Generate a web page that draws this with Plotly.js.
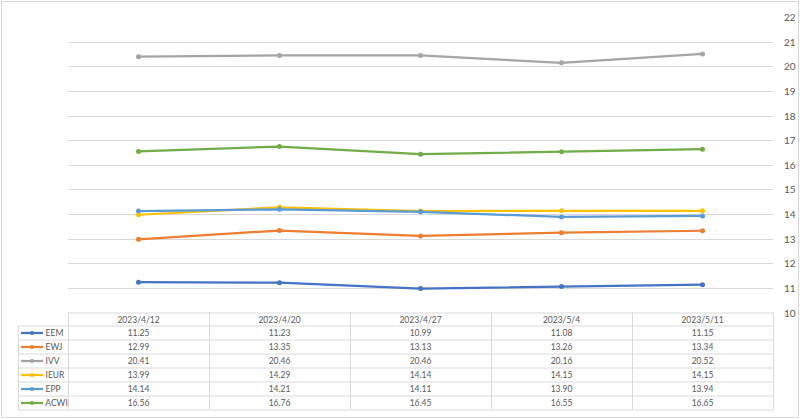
<!DOCTYPE html>
<html><head><meta charset="utf-8">
<script src="https://cdn.plot.ly/plotly-3.0.1.min.js"></script>
<style>html,body{margin:0;padding:0;background:#fff}</style>
</head><body>
<div id="chart" style="width:800px;height:419px"></div>
<script>
const dates = ['2023/4/12','2023/4/20','2023/4/27','2023/5/4','2023/5/11'];
const EEM  = [11.25, 11.23, 10.99, 11.08, 11.15];
const EWJ  = [12.99, 13.35, 13.13, 13.26, 13.34];
const IVV  = [20.41, 20.46, 20.46, 20.16, 20.52];
const IEUR = [13.99, 14.29, 14.14, 14.15, 14.15];
const EPP  = [14.14, 14.21, 14.11, 13.90, 13.94];
const ACWI = [16.56, 16.76, 16.45, 16.55, 16.65];
const seriesNames = ['EEM','EWJ','IVV','IEUR','EPP','ACWI'];
const seriesValues = [EEM, EWJ, IVV, IEUR, EPP, ACWI];
const colors = ['#4472C4','#ED7D31','#A5A5A5','#FFC000','#5B9BD5','#70AD47'];
const yTickVals = [10,11,12,13,14,15,16,17,18,19,20,21,22];

const W = 800, H = 419;
const px = x => x / W;
const py = y => 1 - y / H;
const FONT = 'Lato, "Liberation Sans", sans-serif';
const TXT = '#595959';
const GRID = '#d9d9d9';

const traces = seriesNames.map((n, i) => ({
  type: 'scatter', mode: 'lines+markers', name: n,
  x: dates, y: seriesValues[i],
  line: {color: colors[i], width: 2.25},
  marker: {color: colors[i], size: 5},
  xaxis: 'x', yaxis: 'y', showlegend: false, hoverinfo: 'skip'
}));

// data table geometry
const tableTop = 312.5, headH = 13, rowH = 14, tableLeft = 18, legendW = 50, colW = 141;
const textShift = 3.5;   // table text sits low in its cells; lift the text block
const nRows = seriesNames.length;
const tableBottom = tableTop + headH + rowH * nRows;
const tableRight = tableLeft + legendW + colW * dates.length;

const pad = '\u00a0'.repeat(9);
const colVals = [seriesNames.map(n => pad + n)];
dates.forEach((d, j) => colVals.push(seriesValues.map(s => s[j].toFixed(2))));

traces.push({
  type: 'table',
  domain: {x: [px(tableLeft), px(tableRight)], y: [py(tableBottom - textShift), py(tableTop - textShift)]},
  columnwidth: [legendW].concat(dates.map(() => colW)),
  header: {
    values: [''].concat(dates),
    height: headH, align: 'center',
    line: {color: 'rgba(0,0,0,0)', width: 0},
    fill: {color: 'rgba(0,0,0,0)'},
    font: {family: FONT, size: 8.5, color: TXT}
  },
  cells: {
    values: colVals,
    height: rowH,
    align: ['left'].concat(dates.map(() => 'center')),
    line: {color: 'rgba(0,0,0,0)', width: 0},
    fill: {color: 'rgba(0,0,0,0)'},
    font: {family: FONT, size: 8.5, color: TXT}
  }
});

const shapes = [];
const hline = (y, x0, x1) => shapes.push({type: 'line', xref: 'paper', yref: 'paper', layer: 'above',
  x0: px(x0), x1: px(x1), y0: py(y), y1: py(y), line: {color: GRID, width: 1}});
const vline = (x, y0, y1) => shapes.push({type: 'line', xref: 'paper', yref: 'paper', layer: 'above',
  x0: px(x), x1: px(x), y0: py(y0), y1: py(y1), line: {color: GRID, width: 1}});
const dataLeft = tableLeft + legendW;
hline(tableTop + 0.5, dataLeft, tableRight);
for (let r = 0; r <= nRows; r++) hline(tableTop + headH + rowH * r + 0.5, tableLeft, tableRight);
vline(tableLeft + 0.5, tableTop + headH, tableBottom);
for (let c = 0; c <= dates.length; c++) vline(dataLeft + colW * c + 0.5, tableTop, tableBottom);

// legend keys in the table's first column
seriesNames.forEach((n, i) => {
  const yc = tableTop + headH + rowH * i + rowH / 2 + 0.5;
  shapes.push({type: 'line', xref: 'paper', yref: 'paper', layer: 'above',
    x0: px(21), x1: px(43), y0: py(yc), y1: py(yc),
    line: {color: colors[i], width: 2.25}});
  shapes.push({type: 'circle', xref: 'paper', yref: 'paper', layer: 'above',
    x0: px(30), x1: px(34), y0: py(yc - 2), y1: py(yc + 2),
    fillcolor: colors[i], line: {color: colors[i], width: 0}});
});
// chart border
shapes.push({type: 'rect', xref: 'paper', yref: 'paper', layer: 'below',
  x0: px(1.5), x1: px(798.5), y0: py(417.5), y1: py(1.5),
  line: {color: GRID, width: 1}});

const layout = {
  width: W, height: H,
  margin: {l: 0, r: 0, t: 0, b: 0},
  paper_bgcolor: '#ffffff', plot_bgcolor: '#ffffff',
  showlegend: false,
  font: {family: FONT, size: 10, color: TXT},
  xaxis: {domain: [px(68), px(773)], type: 'category', range: [-0.5, 4.5],
    showticklabels: false, showgrid: false, zeroline: false, showline: false, fixedrange: true},
  yaxis: {domain: [py(313), py(17.5)], range: [10, 22], side: 'right',
    tickvals: yTickVals, showgrid: true, gridcolor: GRID, gridwidth: 1,
    zeroline: false, showline: false, ticks: '', ticklabelstandoff: 10,
    tickfont: {family: FONT, size: 10, color: TXT}},
  shapes: shapes
};

Plotly.newPlot('chart', traces, layout, {displayModeBar: false, staticPlot: true});
</script>
</body></html>
